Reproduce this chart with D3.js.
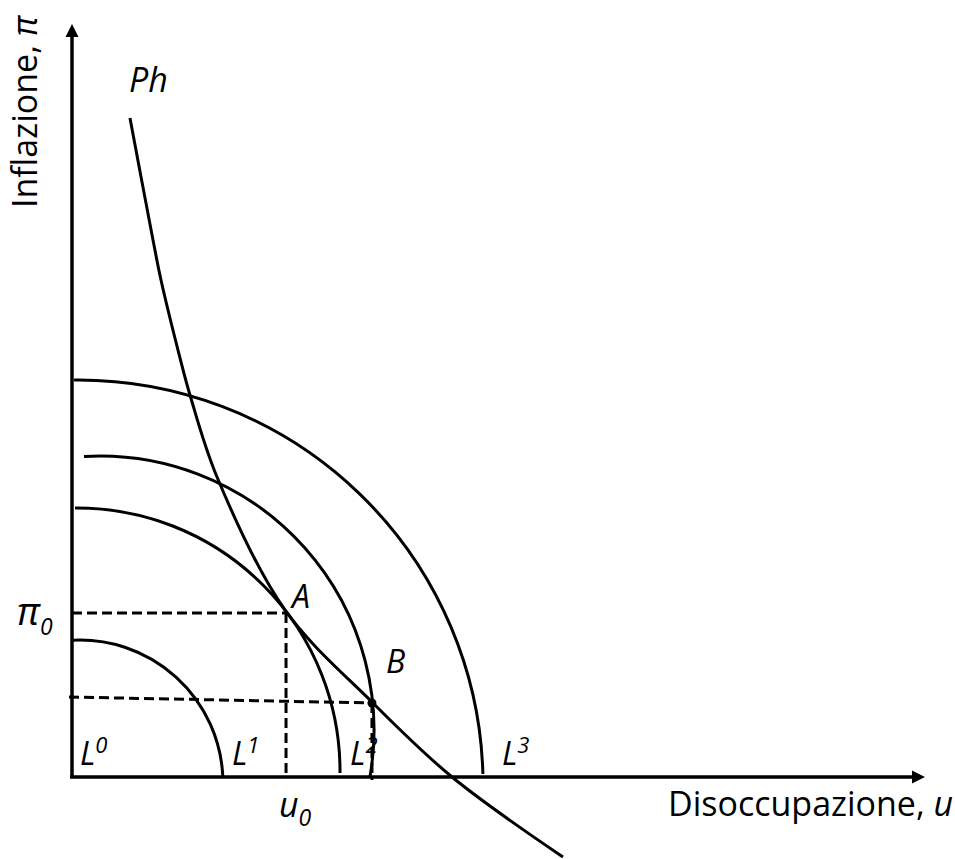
<!DOCTYPE html>
<html>
<head>
<meta charset="utf-8">
<script src="https://cdn.jsdelivr.net/npm/d3@7"></script>
<style>
  body { margin: 0; background: #fff; }
  text { font-family: "Open Sans", "DejaVu Sans", sans-serif; fill: #000; }
</style>
</head>
<body>
<svg id="chart" width="955" height="859"></svg>
<script>
// Phillips curve (unemployment u, inflation π), model units
const phU  = [0.682, 0.953, 1.047, 1.271, 1.388, 1.706, 2.506, 3.529, 4.471, 5.776];
const phPi = [7.753, 6.318, 5.847, 4.929, 4.494, 3.529, 1.965, 0.882, 0.000, -0.941];

// Loss-function level sets L0..L3: circular arcs (centre, radius),
// drawn from a start abscissa on the π side to an end ordinate on the u side
const lossNames  = ["0", "1", "2", "3"];
const lossCx     = [0.094, 0.059, 0.329, 0.071];
const lossCy     = [-0.071, 0.071, 0.553, -0.094];
const lossR      = [1.682, 3.094, 3.224, 4.765];
const lossStartU = [0.000, 0.035, 0.141, 0.024];
const lossEndPi  = [0.000, 0.047, 0.000, 0.035];
const lossLabelU = [0.094, 1.882, 3.271, 5.059];

// Points on the diagram: tangency A and intersection B
const pointA = { u: 2.518, pi: 1.929 };
const pointB = { u: 3.529, pi: 0.871 };

// Axis extents
const uMax = 10.035;
const piMax = 8.86;

const svg = d3.select("#chart");
const x = d3.scaleLinear().domain([0, 10]).range([72, 922]);
const y = d3.scaleLinear().domain([0, 9]).range([777, 12]);
const px = x(1) - x(0);

// Axes with arrowheads
const axisG = svg.append("g");
axisG.append("line")
  .attr("x1", x(0)).attr("y1", y(0))
  .attr("x2", x(0)).attr("y2", y(piMax) + 12)
  .attr("stroke", "#000").attr("stroke-width", 3.5);
axisG.append("line")
  .attr("x1", x(0) - 2).attr("y1", y(0))
  .attr("x2", x(uMax) - 12).attr("y2", y(0))
  .attr("stroke", "#000").attr("stroke-width", 3.5);
axisG.append("path")
  .attr("d", `M${x(0)},${y(piMax)} L${x(0) - 6.5},${y(piMax) + 13} L${x(0) + 6.5},${y(piMax) + 13} Z`)
  .attr("fill", "#000");
axisG.append("path")
  .attr("d", `M${x(uMax)},${y(0)} L${x(uMax) - 13},${y(0) - 6.5} L${x(uMax) - 13},${y(0) + 6.5} Z`)
  .attr("fill", "#000");

// Loss arcs
const arcs = lossNames.map((n, i) => {
  const cx = x(lossCx[i]), cy = y(lossCy[i]), r = lossR[i] * px;
  const xs = x(lossStartU[i]);
  const ys = cy - Math.sqrt(r * r - (xs - cx) * (xs - cx));
  const ye = y(lossEndPi[i]);
  const xe = cx + Math.sqrt(r * r - (ye - cy) * (ye - cy));
  const a0 = Math.atan2(ys - cy, xs - cx);
  const a1 = Math.atan2(ye - cy, xe - cx);
  const p = d3.path();
  p.moveTo(xs, ys);
  p.arc(cx, cy, r, a0, a1, false);
  return p.toString();
});
svg.append("g").selectAll("path").data(arcs).join("path")
  .attr("d", d => d)
  .attr("fill", "none").attr("stroke", "#000").attr("stroke-width", 3);

// Dashed guides to π0 / u0 and through B
const dash = svg.append("g")
  .attr("stroke", "#000").attr("stroke-width", 3).attr("stroke-dasharray", "10,5").attr("fill", "none");
dash.append("line")
  .attr("x1", x(0)).attr("y1", y(pointA.pi)).attr("x2", x(pointA.u)).attr("y2", y(pointA.pi));
dash.append("line")
  .attr("x1", x(pointA.u)).attr("y1", y(pointA.pi)).attr("x2", x(pointA.u)).attr("y2", y(0));
dash.append("line")
  .attr("x1", x(-0.035)).attr("y1", y(0.941)).attr("x2", x(pointB.u)).attr("y2", y(pointB.pi));
dash.append("line")
  .attr("x1", x(pointB.u)).attr("y1", y(pointB.pi)).attr("x2", x(pointB.u)).attr("y2", y(-0.035));

// Phillips curve
const phLine = d3.line().x(d => x(d[0])).y(d => y(d[1])).curve(d3.curveCatmullRom.alpha(0.5));
svg.append("path")
  .attr("d", phLine(phU.map((u, i) => [u, phPi[i]])))
  .attr("fill", "none").attr("stroke", "#000").attr("stroke-width", 3);

// Point B
svg.append("circle").attr("cx", x(pointB.u)).attr("cy", y(pointB.pi)).attr("r", 4.5).attr("fill", "#000");

// Labels
const fs = 32;
svg.append("text").attr("x", 129).attr("y", 92).attr("font-size", 34).attr("font-style", "italic").text("Ph");

const yt = svg.append("text").attr("transform", "translate(37,208) rotate(-90)").attr("font-size", 34);
yt.append("tspan").text("Inflazione, ");
yt.append("tspan").attr("font-style", "italic").text("π");

const xt = svg.append("text").attr("x", 668).attr("y", 816).attr("font-size", 34);
xt.append("tspan").text("Disoccupazione, ");
xt.append("tspan").attr("font-style", "italic").text("u");

const piLab = svg.append("text").attr("x", 17).attr("y", y(pointA.pi) + 12).attr("font-size", 38).attr("font-style", "italic");
piLab.append("tspan").text("π");
piLab.append("tspan").attr("font-size", 23).attr("dy", 10).text("0");

const uLab = svg.append("text").attr("x", 279).attr("y", 817).attr("font-size", 34).attr("font-style", "italic");
uLab.append("tspan").text("u");
uLab.append("tspan").attr("font-size", 23).attr("dy", 9).text("0");

svg.append("text").attr("x", x(pointA.u) + 6).attr("y", y(pointA.pi) - 5)
  .attr("font-size", fs).attr("font-style", "italic").text("A");
svg.append("text").attr("x", x(pointB.u) + 14).attr("y", y(pointB.pi) - 30)
  .attr("font-size", fs).attr("font-style", "italic").text("B");

const lab = svg.append("g").selectAll("text").data(lossNames).join("text")
  .attr("x", (d, i) => x(lossLabelU[i])).attr("y", 765)
  .attr("font-size", fs).attr("font-style", "italic");
lab.append("tspan").text("L");
lab.append("tspan").attr("font-size", 22).attr("dy", -12).text(d => d);
</script>
</body>
</html>
